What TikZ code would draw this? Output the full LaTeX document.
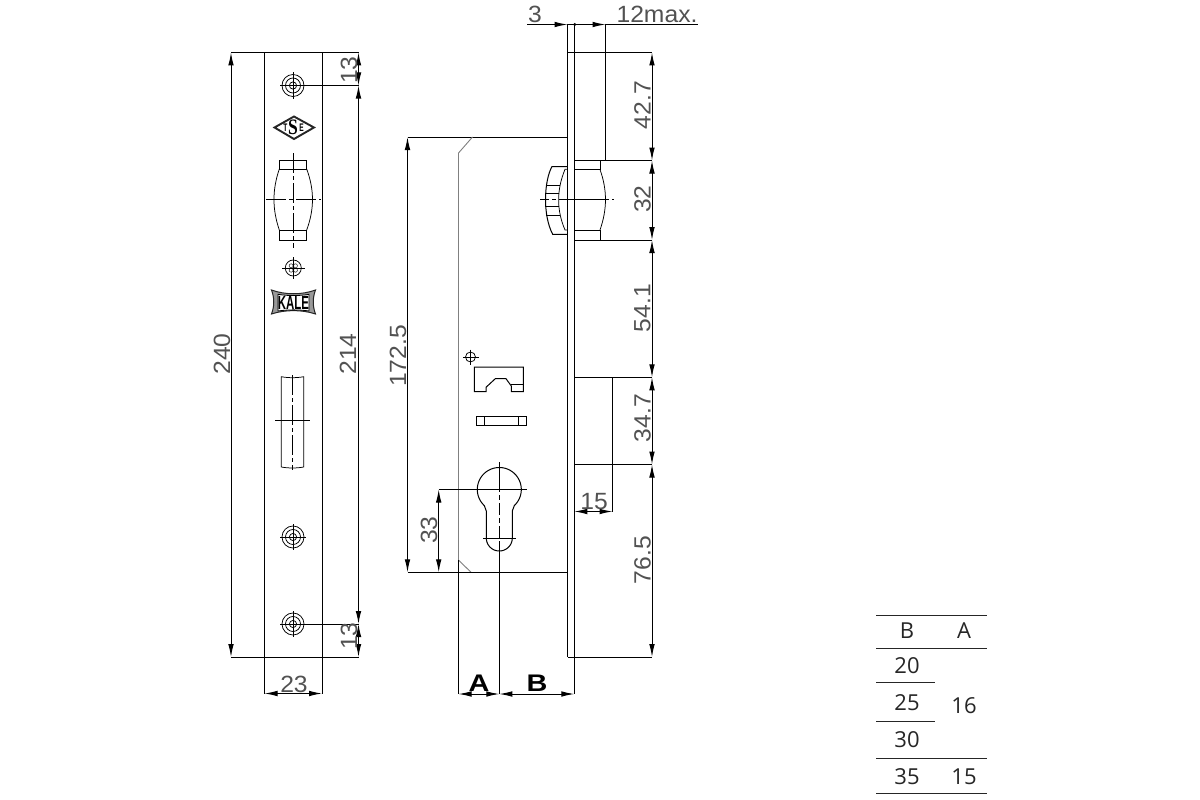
\documentclass[tikz,border=0pt]{standalone}
\usepackage{fontspec}
\usetikzlibrary{arrows.meta}
\setmainfont{Liberation Sans}
\newfontfamily\dimfont[FakeStretch=1.05]{Liberation Sans}
\newfontfamily\boldfont[FakeStretch=1.2]{Liberation Sans Bold}
\newfontfamily\narrowfont[FakeStretch=0.6]{Liberation Sans Bold}
\newfontfamily\tablefont{Open Sans}
\newfontfamily\logoserif[FakeStretch=0.8]{Liberation Serif Bold}
\tikzset{
  ln/.style={line width=1pt,black},
  thin ln/.style={line width=0.75pt,black},
  centre/.style={line width=0.9pt,black,dash pattern=on 20pt off 3pt on 4pt off 3pt},
  both/.style={{Latex[length=13pt,width=5.6pt]}-{Latex[length=13pt,width=5.6pt]}},
  tipb/.style={-{Latex[length=13pt,width=5.6pt]}},
  dimlabel/.style={font=\dimfont\fontsize{23.5}{23.5}\selectfont,text=black!68,inner sep=0pt},
  vdim/.style={dimlabel,rotate=90},
  letter/.style={font=\boldfont\fontsize{24}{24}\selectfont,inner sep=0pt},
  cell/.style={font=\tablefont\fontsize{22}{22}\selectfont,text=black!85,inner sep=0pt},
  rule/.style={line width=0.85pt,black!85}
}
\begin{document}
\begin{tikzpicture}[x=1pt,y=-1pt]
\useasboundingbox (0,0) rectangle (1200,800);
\fill[white] (0,0) rectangle (1200,800);

% ---------- front plate view
\draw[ln] (231,52.5) -- (358.5,52.5);
\draw[ln] (231,657) -- (358.5,657);
\draw[ln] (264.5,52.5) -- (264.5,694);
\draw[ln] (322,52.5) -- (322,694);
\draw[ln,both] (231,52.5) -- (231,657);
\draw[ln,both] (358.5,85.5) -- (358.5,624);
\draw[ln,both] (358.5,52.5) -- (358.5,85.5);
\draw[ln,both] (358.5,624) -- (358.5,657);
\draw[ln,both] (264.5,693.5) -- (322,693.5);

% screws
\foreach \sy in {85.5,537,624}{
  \draw[thin ln] (293,\sy) circle (11) circle (7.5) circle (3.6);
  \draw[ln] (280,\sy) -- (306,\sy) (293,\sy-13) -- (293,\sy+13);
}
\draw[ln] (306,85.5) -- (358.5,85.5);
\draw[ln] (306,624) -- (358.5,624);

% TSE mark
\draw[line width=1.9pt,black!85,line join=miter] (274.5,127.5) -- (294,116.5) -- (314,127.5) -- (294,139) -- cycle;
\node[inner sep=0pt,font=\narrowfont\fontsize{11}{11}\selectfont] (tseT) at (285.5,128) {T};
\node[inner sep=0pt,font=\logoserif\fontsize{22}{22}\selectfont] (tseS) at (293,127.5) {S};
\node[inner sep=0pt,font=\narrowfont\fontsize{11}{11}\selectfont] (tseE) at (301.5,128) {E};

% handle opening
\draw[ln] (279.3,160.5) rectangle (306.7,169);
\draw[ln] (279.3,230) rectangle (306.7,240);
\draw[thin ln] (279.3,169) .. controls (272.2,190) and (272.2,209) .. (279.3,230);
\draw[thin ln] (306.7,169) .. controls (314.4,190) and (314.4,209) .. (306.7,230);
\draw[centre] (293,153) -- (293,248);
\draw[centre] (266,199) -- (321,199);

% small screw
\draw[thin ln] (293.3,268) circle (8);
\foreach \dx/\dy in {-2.2/-2.2,2.2/-2.2,-2.2/2.2,2.2/2.2}
  \draw[line width=0.6pt,black!75] (293.3+\dx,268+\dy) circle (2);
\draw[ln] (282,268) -- (304.5,268) (293.3,257) -- (293.3,279);

% KALE mark
\filldraw[fill=black!40,draw=black!85,line width=1pt] (271.5,290) .. controls (285,295) and (302,295) .. (315.5,290)
  .. controls (312.5,298) and (312.5,306) .. (315.5,314) .. controls (302,309.5) and (285,309.5) .. (271.5,314)
  .. controls (274.5,306) and (274.5,298) .. (271.5,290) -- cycle;
\filldraw[fill=white,draw=black,line width=0.8pt] (278,294.3) .. controls (288,296) and (299,296) .. (309,294.3)
  -- (309,311) .. controls (299,309.5) and (288,309.5) .. (278,311) -- cycle;
\node[inner sep=0pt,font=\narrowfont\fontsize{19}{19}\selectfont] (kale) at (293.5,302.7) {KALE};

% slot
\draw[thin ln] (281.3,376.7) .. controls (288,378) and (297,378) .. (303.7,376.7) -- (303.7,467) .. controls (297,468.3) and (288,468.3) .. (281.3,467) -- cycle;
\draw[centre] (292.7,375) -- (292.7,470);
\draw[ln] (275,420.5) -- (310,420.5);

% labels, plate view
\node[vdim] (l240) at (222,354) {240};
\node[vdim] (l214) at (348,354) {214};
\node[vdim] (l13a) at (349,70) {13};
\node[vdim] (l13b) at (349,636) {13};
\node[dimlabel] (l23) at (294,684) {23};

% ---------- side view
\draw[ln] (567.5,24) -- (567.5,657);
\draw[ln] (574.3,24) -- (574.3,694);
\draw[ln] (605.5,24) -- (605.5,160.5);
\draw[ln] (567.5,52.5) -- (652,52.5);
\draw[ln] (574.3,160.5) -- (652,160.5);
\draw[ln] (574.3,240) -- (652,240);
\draw[ln] (574.3,377.3) -- (652,377.3);
\draw[ln] (574.3,464.5) -- (652,464.5);
\draw[ln] (567.5,657) -- (652,657);
\draw[ln] (612.5,377.3) -- (612.5,512);

% top dimension
\draw[ln,tipb] (527,24.5) -- (567.5,24.5);
\draw[ln] (567.5,24.5) -- (574.3,24.5);
\fill (574.7,24.5) circle (1.7);
\draw[ln,tipb] (574.3,24.5) -- (605.5,24.5);
\draw[ln] (605.5,24.5) -- (698,24.5);
\node[dimlabel] (l3) at (535,14.5) {3};
\node[dimlabel] (l12) at (657,14.5) {12max.};

% right chain
\draw[ln,both] (652,52.5) -- (652,160.5);
\draw[ln,both] (652,160.5) -- (652,240);
\draw[ln,both] (652,240) -- (652,377.3);
\draw[ln,both] (652,377.3) -- (652,464.5);
\draw[ln,both] (652,464.5) -- (652,657);
\node[vdim] (l427) at (642.5,105) {42.7};
\node[vdim] (l32) at (642.5,199) {32};
\node[vdim] (l541) at (642.5,308) {54.1};
\node[vdim] (l347) at (642.5,418) {34.7};
\node[vdim] (l765) at (642.5,560) {76.5};
\draw[ln,both] (574.3,511.5) -- (612.5,511.5);
\node[dimlabel] (l15) at (594,502) {15};

% latch
\draw[ln] (600,160.5) -- (600,169.5) (574.3,169.5) -- (600,169.5);
\draw[ln] (600,230) -- (600,240) (574.3,230) -- (600,230);
\draw[thin ln] (600,169.5) .. controls (607.3,190) and (607.3,209) .. (600,230);

% knob
\draw[ln] (567.5,166.5) -- (552,166.5) .. controls (544,181) and (542.5,215) .. (552.7,234.3) -- (567.5,234.3);
\draw[thin ln] (567.5,169.3) -- (565,169.3) .. controls (556.5,190) and (556.5,210) .. (565,230) -- (567.5,230);
\foreach \ty/\xa/\xb in {185/546/559.5,193.3/545/558.8,206/545/558.8,215/546/559.8}
  \draw[thin ln] (\xa,\ty) -- (\xb,\ty);
\draw[centre,dash pattern=on 9pt off 3pt on 4pt off 3pt on 50pt off 3pt on 13pt off 3pt] (540,199.3) -- (614,199.3);

% lock body
\draw[ln] (408,137) -- (567.5,137);
\draw[line width=0.9pt,black!50] (472.5,137) -- (458.5,153) -- (458.5,560) -- (471,572.3);
\draw[ln] (408,572.3) -- (567.5,572.3);
\draw[ln] (458.5,560) -- (458.5,694);
\draw[ln,both] (407.5,137) -- (407.5,572.3);
\draw[ln,both] (438.7,489.5) -- (438.7,572.3);
\draw[ln] (438.7,489.5) -- (527,489.5);
\node[vdim] (l1725) at (398,356) {172.5};
\node[vdim] (l33) at (429,530) {33};

% small mark
\draw[thin ln] (470.5,357) circle (5);
\draw[thin ln] (463,357) -- (478.5,357) (470.5,349.5) -- (470.5,365);

% upper cut-out
\draw[ln] (474.3,367) -- (523.3,367) -- (523.3,391.7) -- (511.3,391.7) -- (511.3,386) -- (506,378.7) -- (495.3,378.7) -- (486,387.3) -- (486,391.7) -- (474.3,391.7) -- cycle;
\draw[ln] (511.3,384) -- (523.3,384);

% lower cut-out
\draw[ln] (476.3,416.3) rectangle (526.7,425.7);
\draw[ln] (484.3,416.3) -- (484.3,425.7) (518.7,416.3) -- (518.7,425.7);

% cylinder hole
\draw[ln] (486.3,538) -- (486.3,511) -- plot[domain=133:407,samples=70] ({499.3+22*cos(\x)},{489.5+22*sin(\x)}) -- (512.3,511) -- (512.3,538) -- plot[domain=0:180,samples=30] ({499.3+13*cos(\x)},{538+13*sin(\x)});
\draw[ln] (483.3,538) -- (516,538);
\draw[ln,dash pattern=on 30pt off 3pt on 5pt off 3pt on 12pt off 3pt on 5pt off 3pt on 12pt off 3pt on 200pt] (499.3,462) -- (499.3,694);

% A and B
\draw[ln,both] (458.5,694) -- (499.3,694);
\draw[ln,both] (499.3,694) -- (574.3,694);
\node[letter] (la) at (479,683) {A};
\node[letter] (lb) at (537,683) {B};

% ---------- table
\draw[rule] (876,615.5) -- (987,615.5);
\draw[rule] (876,648.3) -- (987,648.3);
\draw[rule] (876,682.3) -- (935,682.3);
\draw[rule] (876,721.5) -- (935,721.5);
\draw[rule] (876,758.5) -- (987,758.5);
\draw[rule] (876,793.3) -- (987,793.3);
\node[cell] (tb) at (907,630.5) {B};
\node[cell] (ta) at (964,630.5) {A};
\node[cell] (t20) at (907,666) {20};
\node[cell] (t25) at (907,703) {25};
\node[cell] (t30) at (907,739.5) {30};
\node[cell] (t16) at (964,705.5) {16};
\node[cell] (t35) at (907,776.5) {35};
\node[cell] (t15) at (964,776.5) {15};
\end{tikzpicture}
\end{document}
